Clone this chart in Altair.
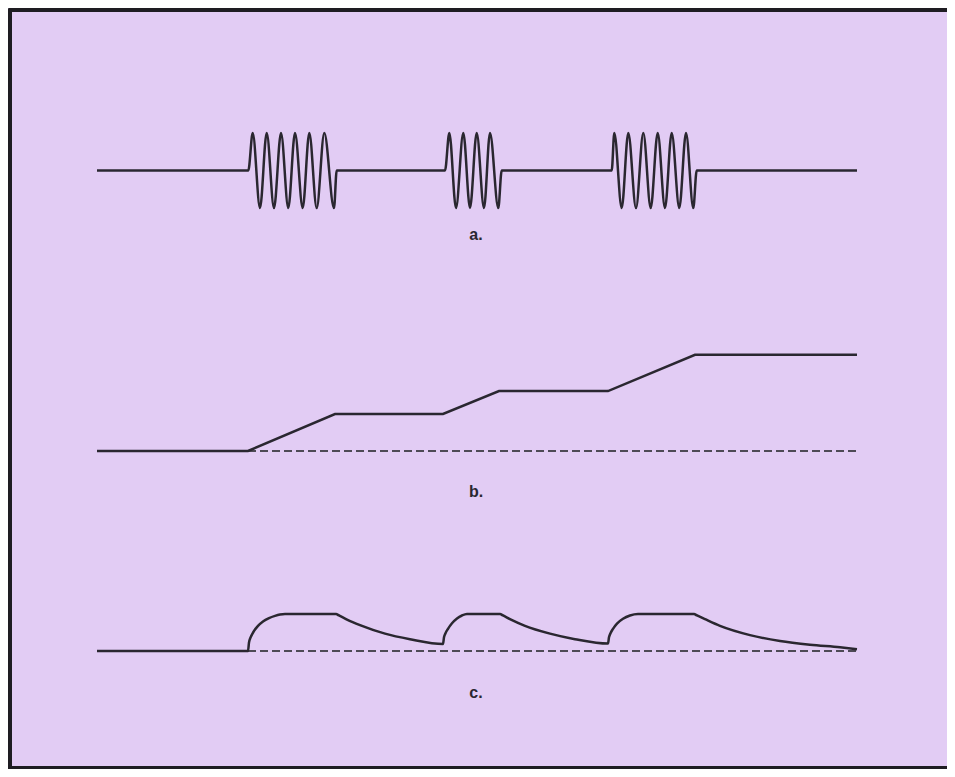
import altair as alt
import pandas as pd

# ---- data (time in arbitrary units, signal normalised) ----
# a. bursts of oscillation on a flat baseline (turning points)
a_t = [0,
       151.3, 155.7, 163, 169.7, 177, 184, 191.3, 198, 205.7, 212.3, 219.7, 227.3, 237, 239.7,
       348, 352.3, 359, 366.3, 373, 379.7, 387, 393, 401.3, 404.7,
       514.7, 517.3, 524.7, 531.3, 539, 546.3, 553.7, 560.7, 568, 574.7, 582.3, 589, 596.3, 599.7,
       760]
a_v = [0,
       0, 1, -1, 1, -1, 1, -1, 1, -1, 1, -1, 1, -1, 0,
       0, 1, -1, 1, -1, 1, -1, 1, -1, 0,
       0, 1, -1, 1, -1, 1, -1, 1, -1, 1, -1, 1, -1, 0,
       0]

# b. staircase of accumulated response
b_t = [0, 151, 238, 346, 402, 511, 598, 760]
b_v = [0, 0, 1.0, 1.0, 1.62, 1.62, 2.6, 2.6]

# dashed reference baselines (b and c)
base_t = [151, 760]
base_v = [0, 0]

# c. rise / plateau / decay response
c_t = [0, 151, 152, 153.5, 155.5, 158, 161, 166, 172, 178, 183, 188,
       239, 242, 250, 263, 288, 313, 346,
       347, 348.5, 351, 355, 360, 365, 370,
       403, 406, 414, 428, 453, 478, 511,
       512, 513.5, 516, 520, 526, 533, 541,
       597, 600, 608, 623, 653, 683, 713, 743, 760]
c_v = [0, 0, 0.23, 0.36, 0.47, 0.58, 0.68, 0.80, 0.89, 0.95, 0.985, 1.0,
       1.0, 0.96, 0.85, 0.70, 0.47, 0.32, 0.19,
       0.37, 0.48, 0.60, 0.75, 0.88, 0.96, 1.0,
       1.0, 0.96, 0.85, 0.68, 0.47, 0.32, 0.2,
       0.37, 0.48, 0.60, 0.74, 0.87, 0.96, 1.0,
       1.0, 0.96, 0.86, 0.68, 0.43, 0.27, 0.17, 0.10, 0.05]

labels = ["a.", "b.", "c."]

# ---- styling / layout ----
W, H = 939, 761
bg = "#E2CCF4"
line_color = "#2a2730"
dash_color = "#4e4a55"
border_color = "#1e1c22"

xs = alt.Scale(domain=[-89, 850], nice=False, zero=False)


def ys(dom):
    return alt.Scale(domain=dom, nice=False, zero=False)


def border_axis(orient):
    return alt.Axis(orient=orient, labels=False, ticks=False, grid=False, title=None,
                    domain=True, domainColor=border_color, domainWidth=7)


a_df = pd.DataFrame({"t": a_t, "v": a_v})
b_df = pd.DataFrame({"t": b_t, "v": b_v})
base_df = pd.DataFrame({"t": base_t, "v": base_v})
c_df = pd.DataFrame({"t": c_t, "v": c_v})

ya = ys([-15.96, 4.333])
yb = ys([-8.595, 11.973])
yc = ys([-3.189, 17.378])

layer_a = alt.Chart(a_df).mark_line(
    color=line_color, strokeWidth=2.5, interpolate="monotone"
).encode(
    x=alt.X("t:Q", scale=xs, axis=border_axis("bottom")),
    y=alt.Y("v:Q", scale=ya, axis=border_axis("left")),
)

layer_b_base = alt.Chart(base_df).mark_line(
    color=dash_color, strokeWidth=2, strokeDash=[8, 4]
).encode(
    x=alt.X("t:Q", scale=xs, axis=border_axis("top")),
    y=alt.Y("v:Q", scale=yb, axis=None),
)

layer_b = alt.Chart(b_df).mark_line(
    color=line_color, strokeWidth=2.5
).encode(
    x=alt.X("t:Q", scale=xs, axis=None),
    y=alt.Y("v:Q", scale=yb, axis=None),
)

layer_c_base = alt.Chart(base_df).mark_line(
    color=dash_color, strokeWidth=2, strokeDash=[8, 4]
).encode(
    x=alt.X("t:Q", scale=xs, axis=None),
    y=alt.Y("v:Q", scale=yc, axis=None),
)

layer_c = alt.Chart(c_df).mark_line(
    color=line_color, strokeWidth=2.5, interpolate="monotone"
).encode(
    x=alt.X("t:Q", scale=xs, axis=None),
    y=alt.Y("v:Q", scale=yc, axis=None),
)

label_layers = []
for lab, ypix in zip(labels, [227, 484, 685]):
    label_layers.append(
        alt.Chart(pd.DataFrame({"label": [lab]})).mark_text(
            font="Liberation Sans", fontSize=16, fontWeight="bold", color=line_color,
            align="center", baseline="middle"
        ).encode(x=alt.value(468), y=alt.value(ypix), text="label:N")
    )

chart = alt.layer(
    layer_a, layer_b_base, layer_b, layer_c_base, layer_c, *label_layers
).resolve_scale(
    y="independent"
).resolve_axis(
    x="independent", y="independent"
).properties(
    width=W, height=H, padding=0,
    autosize=alt.AutoSizeParams(type="none")
).configure(
    background=bg
).configure_view(
    stroke=None
)

chart.save("out.html", embed_options={"renderer": "svg", "actions": False})
